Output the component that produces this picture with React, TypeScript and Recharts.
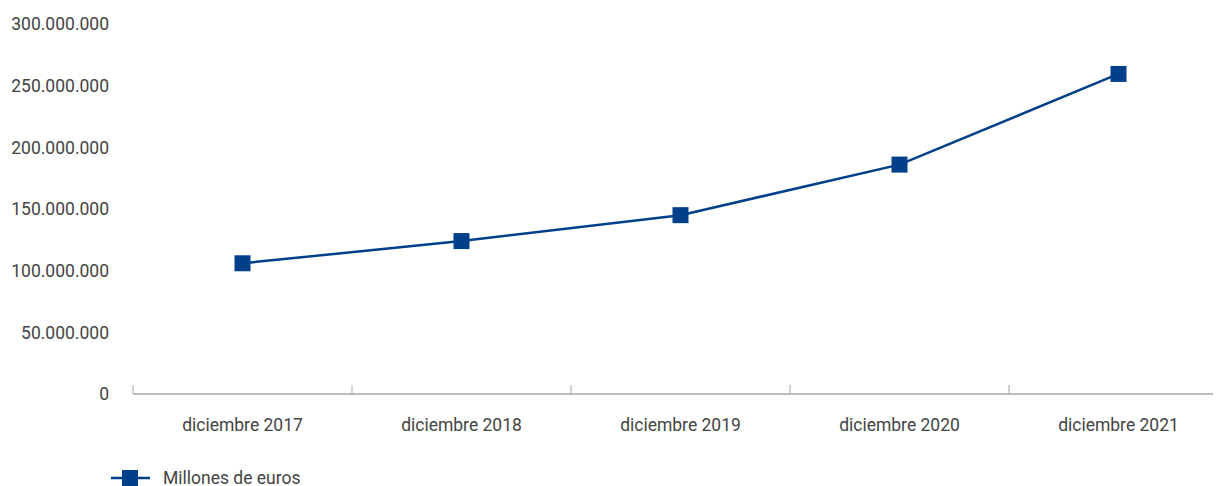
import { LineChart, Line, XAxis, YAxis, Legend } from "recharts";

const periods = [
  "diciembre 2017",
  "diciembre 2018",
  "diciembre 2019",
  "diciembre 2020",
  "diciembre 2021",
];
const millones = [106000000, 124000000, 145000000, 186000000, 259500000];
const yTicks = [0, 50000000, 100000000, 150000000, 200000000, 250000000, 300000000];
const seriesName = "Millones de euros";

const data = periods.map((p, i) => ({ period: p, value: millones[i] }));

const BLUE = "#003f8a";
const TEXT = "#444444";
const AXIS = "#a6a6a6";
const FONT = "Roboto, sans-serif";
const CHART_W = 1240;
const Y_W = 133;
const RIGHT = 12;
const BAND = (CHART_W - Y_W - RIGHT) / periods.length;

const fmt = (v: number) =>
  String(v).replace(/\B(?=(\d{3})+(?!\d))/g, ".");

function SquareDot(props: any) {
  const { cx, cy } = props;
  if (cx == null || cy == null) return null;
  return <rect x={cx - 8} y={cy - 8} width={16} height={16} fill={BLUE} />;
}

function XTick(props: any) {
  const { x, y, payload } = props;
  const left = x - BAND / 2;
  return (
    <g>
      <line x1={left} x2={left} y1={y - 9} y2={y} stroke={AXIS} strokeWidth={1} />
      <text x={x} y={y + 37} textAnchor="middle" fill={TEXT} fontSize={17.5} fontFamily={FONT}>
        {payload.value}
      </text>
    </g>
  );
}

function LegendContent() {
  return (
    <svg width={320} height={42} style={{ display: "block" }}>
      <line x1={111} x2={150} y1={34} y2={34} stroke={BLUE} strokeWidth={2.5} />
      <rect x={122} y={26} width={16} height={16} fill={BLUE} />
      <text x={163} y={40} fill={TEXT} fontSize={17.5} fontFamily={FONT}>
        {seriesName}
      </text>
    </svg>
  );
}

export default function App() {
  return (
    <div
      style={{
        margin: "-8px 0 0 -8px",
        width: 1221,
        height: 486,
        overflow: "hidden",
        fontFamily: FONT,
      }}
    >
      <LineChart
        width={CHART_W}
        height={486}
        data={data}
        margin={{ top: 24, right: RIGHT, left: 0, bottom: 0 }}
      >
        <XAxis
          dataKey="period"
          axisLine={{ stroke: AXIS, strokeWidth: 1.5 }}
          tickLine={false}
          tickSize={0}
          tickMargin={0}
          height={50}
          tick={<XTick />}
          interval={0}
          padding={{ left: BAND / 2, right: BAND / 2 }}
        />
        <YAxis
          width={Y_W}
          domain={[0, 300000000]}
          ticks={yTicks}
          tickFormatter={fmt}
          axisLine={false}
          tickLine={false}
          tickSize={0}
          tickMargin={24}
          tick={{ fill: TEXT, fontSize: 17.5, fontFamily: FONT }}
        />
        <Legend
          verticalAlign="bottom"
          align="left"
          height={42}
          content={<LegendContent />}
          wrapperStyle={{ left: 0, bottom: 0 }}
        />
        <Line
          type="linear"
          dataKey="value"
          name={seriesName}
          stroke={BLUE}
          strokeWidth={2.5}
          dot={<SquareDot />}
          activeDot={false}
          isAnimationActive={false}
        />
      </LineChart>
    </div>
  );
}
